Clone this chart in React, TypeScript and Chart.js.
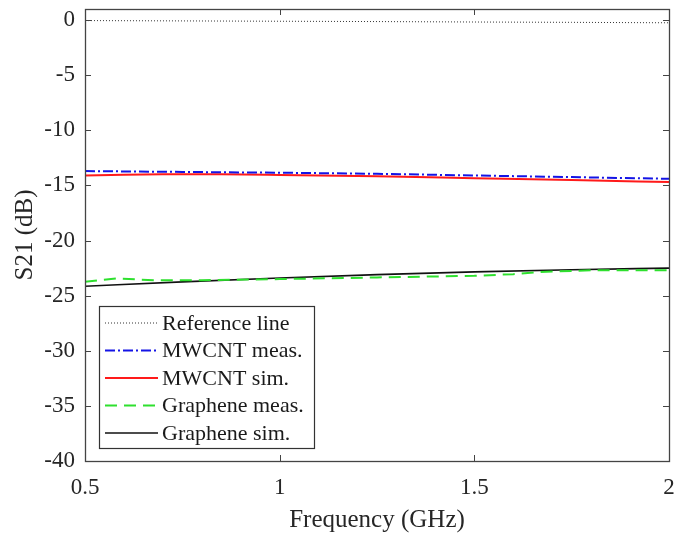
import { useEffect, useRef } from 'react';
import { Chart, registerables } from 'chart.js';

Chart.register(...registerables);

// Frequency (GHz) sample points and S21 (dB) values
const refFreq = [0.5, 0.75, 1.0, 1.25, 1.5, 1.75, 2.0];
const refS21 = [-0.05, -0.08, -0.11, -0.14, -0.18, -0.21, -0.25];

const mwMeasFreq = [0.5, 0.75, 1.0, 1.25, 1.5, 1.75, 2.0];
const mwMeasS21 = [-13.7, -13.78, -13.85, -13.95, -14.1, -14.25, -14.4];

const mwSimFreq = [0.5, 0.6, 0.7, 0.85, 1.0, 1.25, 1.5, 1.75, 2.0];
const mwSimS21 = [-14.1, -14.03, -14.0, -14.0, -14.05, -14.18, -14.35, -14.52, -14.7];

const grMeasFreq = [0.5, 0.58, 0.68, 0.8, 1.0, 1.25, 1.5, 1.6, 1.67, 1.8, 2.0];
const grMeasS21 = [-23.75, -23.45, -23.6, -23.6, -23.5, -23.35, -23.2, -23.05, -22.85, -22.7, -22.7];

const grSimFreq = [0.5, 0.75, 1.0, 1.25, 1.5, 1.75, 2.0];
const grSimS21 = [-24.15, -23.75, -23.4, -23.1, -22.85, -22.65, -22.5];

const xTicks = [0.5, 1, 1.5, 2];
const yTicks = [-40, -35, -30, -25, -20, -15, -10, -5, 0];

const legendLabels = ['Reference line', 'MWCNT meas.', 'MWCNT sim.', 'Graphene meas.', 'Graphene sim.'];

const FONT = '"Liberation Serif", "Times New Roman", serif';
const AXIS = '#262626';

const toPts = (xs: number[], ys: number[]) => xs.map((x, i) => ({ x, y: ys[i] }));

const framePlugin = {
  id: 'frame',
  afterDraw(chart: any) {
    const { ctx, chartArea: a, scales } = chart;
    ctx.save();
    ctx.strokeStyle = '#444444';
    ctx.lineWidth = 1.3;
    ctx.strokeRect(a.left + 0.5, a.top + 0.5, a.right - a.left, a.bottom - a.top);
    const tl = 6;
    ctx.lineWidth = 1;
    ctx.beginPath();
    xTicks.forEach((v) => {
      const px = Math.round(scales.x.getPixelForValue(v)) + 0.5;
      ctx.moveTo(px, a.bottom);
      ctx.lineTo(px, a.bottom - tl);
      ctx.moveTo(px, a.top);
      ctx.lineTo(px, a.top + tl);
    });
    yTicks.forEach((v) => {
      const py = Math.round(scales.y.getPixelForValue(v)) + 0.5;
      ctx.moveTo(a.left, py);
      ctx.lineTo(a.left + tl, py);
      ctx.moveTo(a.right, py);
      ctx.lineTo(a.right - tl, py);
    });
    ctx.stroke();
    ctx.restore();
  },
};

const legendPlugin = {
  id: 'boxLegend',
  afterDraw(chart: any) {
    const { ctx, chartArea: a } = chart;
    const ds = chart.data.datasets;
    const x0 = a.left + 14;
    const y0 = a.bottom - 155;
    const w = 215;
    const h = 142;
    const rowH = 27.5;
    ctx.save();
    ctx.fillStyle = '#ffffff';
    ctx.fillRect(x0, y0, w, h);
    ctx.strokeStyle = '#333333';
    ctx.lineWidth = 1.2;
    ctx.strokeRect(x0 + 0.5, y0 + 0.5, w, h);
    ctx.font = `22px ${FONT}`;
    ctx.textBaseline = 'middle';
    ctx.textAlign = 'left';
    legendLabels.forEach((label, i) => {
      const d = ds[i];
      const cy = y0 + 17 + i * rowH;
      ctx.beginPath();
      ctx.setLineDash(d.borderDash || []);
      ctx.strokeStyle = d.borderColor;
      ctx.lineWidth = d.borderWidth;
      ctx.moveTo(x0 + 6, cy);
      ctx.lineTo(x0 + 59, cy);
      ctx.stroke();
      ctx.setLineDash([]);
      ctx.fillStyle = '#1a1a1a';
      ctx.fillText(label, x0 + 63, cy + 1);
    });
    ctx.restore();
  },
};

export default function App() {
  const ref = useRef<HTMLCanvasElement | null>(null);

  useEffect(() => {
    if (!ref.current) return;
    const chart = new Chart(ref.current, {
      type: 'line',
      data: {
        datasets: [
          {
            label: legendLabels[0],
            data: toPts(refFreq, refS21),
            borderColor: '#333333',
            borderWidth: 1,
            borderDash: [1, 2],
            pointRadius: 0,
            fill: false,
          },
          {
            label: legendLabels[1],
            data: toPts(mwMeasFreq, mwMeasS21),
            borderColor: '#1414e6',
            borderWidth: 2,
            borderDash: [10, 3, 2, 3],
            pointRadius: 0,
            fill: false,
          },
          {
            label: legendLabels[2],
            data: toPts(mwSimFreq, mwSimS21),
            borderColor: '#ff1a1a',
            borderWidth: 2,
            pointRadius: 0,
            cubicInterpolationMode: 'monotone',
            fill: false,
          },
          {
            label: legendLabels[3],
            data: toPts(grMeasFreq, grMeasS21),
            borderColor: '#2ee02e',
            borderWidth: 2,
            borderDash: [12, 7],
            pointRadius: 0,
            fill: false,
          },
          {
            label: legendLabels[4],
            data: toPts(grSimFreq, grSimS21),
            borderColor: '#111111',
            borderWidth: 1.7,
            pointRadius: 0,
            cubicInterpolationMode: 'monotone',
            fill: false,
          },
        ],
      },
      options: {
        animation: false,
        responsive: true,
        maintainAspectRatio: false,
        layout: { padding: { top: 9, right: 7, left: 0, bottom: 0 } },
        plugins: {
          legend: { display: false },
          tooltip: { enabled: false },
        },
        scales: {
          x: {
            type: 'linear',
            min: 0.5,
            max: 2,
            afterBuildTicks: (s: any) => {
              s.ticks = xTicks.map((v) => ({ value: v }));
            },
            afterFit: (s: any) => {
              s.height = 75;
              s.paddingLeft = 0;
              s.paddingRight = 0;
            },
            grid: { display: false, drawTicks: false },
            border: { display: false },
            ticks: {
              padding: 13,
              color: AXIS,
              font: { family: FONT, size: 23 },
              callback: (v: any) => String(v),
              maxRotation: 0,
            },
            title: {
              display: true,
              text: 'Frequency (GHz)',
              color: AXIS,
              font: { family: FONT, size: 25 },
              padding: { top: 0, bottom: 1 },
            },
          },
          y: {
            type: 'linear',
            min: -40,
            max: 1,
            afterBuildTicks: (s: any) => {
              s.ticks = yTicks.map((v) => ({ value: v }));
            },
            afterFit: (s: any) => {
              s.width = 85;
              s.paddingTop = 0;
              s.paddingBottom = 0;
            },
            grid: { display: false, drawTicks: false },
            border: { display: false },
            ticks: {
              padding: 10,
              color: AXIS,
              font: { family: FONT, size: 23 },
              callback: (v: any) => String(v),
            },
            title: {
              display: true,
              text: 'S21 (dB)',
              color: AXIS,
              font: { family: FONT, size: 25 },
              padding: { top: 10, bottom: 0 },
            },
          },
        },
      },
      plugins: [framePlugin, legendPlugin],
    } as any);
    return () => chart.destroy();
  }, []);

  return (
    <div style={{ position: 'fixed', left: 0, top: 0, width: 676, height: 536, background: '#fff' }}>
      <canvas ref={ref} />
    </div>
  );
}
